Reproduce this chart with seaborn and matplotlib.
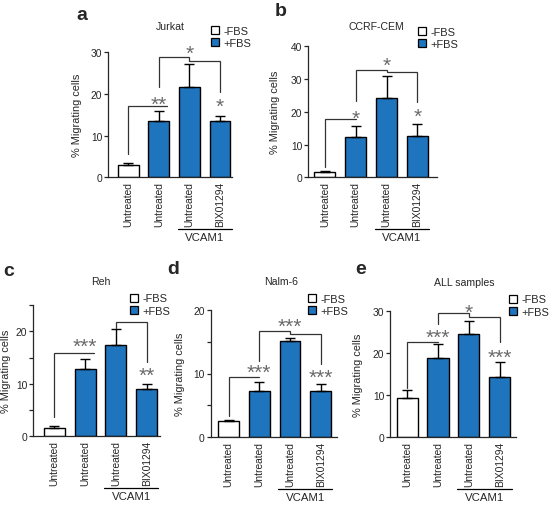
import numpy as np
import pandas as pd
import seaborn as sns
import matplotlib
matplotlib.use("Agg")
import matplotlib.pyplot as plt
import matplotlib.transforms as mtransforms
from matplotlib.patches import Patch

# ---------------- data ----------------
conditions = ["Untreated -FBS", "Untreated +FBS", "VCAM1 Untreated", "VCAM1 BIX01294"]
tick_labels = ["Untreated", "Untreated", "Untreated", "BIX01294"]
serum = ["-FBS", "+FBS", "+FBS", "+FBS"]

jurkat_mean = [2.9, 13.4, 21.6, 13.4]
jurkat_err = [0.5, 2.5, 5.6, 1.4]
ccrf_mean = [1.5, 12.2, 24.1, 12.7]
ccrf_err = [0.3, 3.6, 6.7, 3.6]
reh_mean = [1.6, 12.8, 17.3, 9.0]
reh_err = [0.3, 2.0, 3.1, 0.9]
nalm_mean = [2.5, 7.2, 15.1, 7.3]
nalm_err = [0.2, 1.5, 0.5, 1.0]
all_mean = [9.3, 18.8, 24.5, 14.2]
all_err = [2.0, 3.2, 3.1, 3.7]

titles = ["Jurkat", "CCRF-CEM", "Reh", "Nalm-6", "ALL samples"]
letters = ["a", "b", "c", "d", "e"]

BLUE = "#1f74be"
STAR = "#6a6a6a"
FONT = ["Liberation Sans", "DejaVu Sans"]

sns.set_theme(style="ticks")
plt.rcParams["font.family"] = FONT
plt.rcParams["axes.linewidth"] = 0.9

fig = plt.figure(figsize=(5.5, 5.06), dpi=100)
W, H = 550.0, 506.0

panels = [
    dict(mean=jurkat_mean, err=jurkat_err, box=(108, 232, 53.3, 178.3), xlim=(-0.66, 3.39),
         ymax=30, ticks=[0, 10, 20, 30], ylab_off=26,
         title=(170.7, 27.3), letter=(82, 15), leg=(211, 27),
         brackets=[([0, 0, 1.28], [5.6, 17.2, 17.2]),
                   ([1, 1, 2, 2, 3, 3], [21.6, 28.8, 28.8, 28.0, 28.0, 20.4])],
         stars=[(1, 18.8, "**"), (2, 31.0, "*"), (3, 18.3, "*")]),
    dict(mean=ccrf_mean, err=ccrf_err, box=(308, 437, 47.3, 178.3), xlim=(-0.55, 3.64),
         ymax=40, ticks=[0, 10, 20, 30, 40], ylab_off=28,
         title=(376, 26.7), letter=(281, 12), leg=(418, 27.5),
         brackets=[([0, 0, 1], [3.1, 17.7, 17.7]),
                   ([1, 1, 2, 2, 3, 3], [23.4, 32.9, 32.9, 32.2, 32.2, 23.0])],
         stars=[(1, 19.6, "*"), (2, 35.6, "*"), (3, 20.0, "*")]),
    dict(mean=reh_mean, err=reh_err, box=(33.3, 160, 306, 437.3), xlim=(-0.68, 3.43),
         ymax=25, ticks=[0, 5, 10, 15, 20, 25], ylab_off=22,
         title=(100.8, 281.7), letter=(9, 271), leg=(130, 294.5),
         brackets=[([0, 0, 1.3], [3.6, 15.8, 15.8]),
                   ([2, 2, 3, 3], [20.6, 21.7, 21.7, 14.2])],
         stars=[(1, 18.0, "***"), (3, 12.5, "**")]),
    dict(mean=nalm_mean, err=nalm_err, box=(210.7, 337, 310.7, 438.3), xlim=(-0.58, 3.53),
         ymax=20, ticks=[0, 5, 10, 15, 20], ylab_off=26,
         title=(280.8, 281.7), letter=(173, 270), leg=(308, 295),
         brackets=[([0, 0, 1], [3.4, 9.4, 9.4]),
                   ([1, 1, 2, 2, 3, 3], [12.0, 16.7, 16.7, 16.2, 16.2, 11.5])],
         stars=[(1, 11.0, "***"), (2, 18.1, "***"), (3, 10.1, "***")]),
    dict(mean=all_mean, err=all_err, box=(390, 516, 311.7, 438.3), xlim=(-0.55, 3.52),
         ymax=30, ticks=[0, 10, 20, 30], ylab_off=27,
         title=(464, 283.3), letter=(361, 270), leg=(509, 295.5),
         brackets=[([0, 0, 1], [11.8, 22.6, 22.6]),
                   ([1, 1, 2, 2, 3, 3], [26.8, 29.4, 29.4, 28.4, 28.4, 22.6])],
         stars=[(1, 24.9, "***"), (2, 30.8, "*"), (3, 20.2, "***")]),
]

palette = {"-FBS": "white", "+FBS": BLUE}
STAR_FS = 15

for i, p in enumerate(panels):
    l, r, t, b = p["box"]
    ax = fig.add_axes([l / W, 1 - b / H, (r - l) / W, (b - t) / H])
    df = pd.DataFrame({"cond": conditions, "val": p["mean"], "serum": serum})
    sns.barplot(data=df, x="cond", y="val", hue="serum", palette=palette, dodge=False,
                order=conditions, width=0.68, edgecolor="black", linewidth=1.0,
                saturation=1, errorbar=None, legend=False, ax=ax, zorder=2)
    xs = np.arange(len(conditions))
    ax.errorbar(xs, p["mean"], yerr=[np.zeros(len(xs)), p["err"]], fmt="none",
                ecolor="black", elinewidth=1.0, capsize=3.6, capthick=1.0, zorder=3)
    ax.set_xlim(*p["xlim"])
    ax.set_ylim(0, p["ymax"])
    ax.set_yticks(p["ticks"])
    ax.set_yticklabels([str(v) if v % 10 == 0 else "" for v in p["ticks"]])
    ax.set_xticks(xs)
    ax.set_xticklabels(tick_labels, rotation=90, fontsize=7.4)
    ax.tick_params(axis="x", length=0, pad=2.8)
    ax.tick_params(axis="y", length=3, width=0.9, pad=1.2, labelsize=7.4, direction="out")
    ax.set_xlabel("")
    ax.set_ylabel("% Migrating cells", fontsize=7.9)
    ax.yaxis.set_label_coords(-p["ylab_off"] / (r - l), 0.5)
    sns.despine(ax=ax)
    ax.spines["left"].set_linewidth(0.9)
    ax.spines["bottom"].set_linewidth(0.9)
    ax.patch.set_alpha(0)

    for bx, by in p["brackets"]:
        ax.plot(bx, by, color="#333333", lw=0.9, clip_on=False, zorder=4,
                solid_joinstyle="miter")
    for sx, sy, st in p["stars"]:
        ax.annotate(st, xy=(sx, sy), xytext=(0, -0.5 * STAR_FS), textcoords="offset points",
                    ha="center", va="baseline", fontsize=STAR_FS, color=STAR,
                    annotation_clip=False)

    base = mtransforms.blended_transform_factory(ax.transData, ax.transAxes)
    tline = mtransforms.offset_copy(base, fig=fig, x=0, y=-52, units="dots")
    ttext = mtransforms.offset_copy(base, fig=fig, x=0, y=-60, units="dots")
    ax.plot([1.62, 3.38], [0, 0], color="black", lw=0.9, transform=tline, clip_on=False)
    ax.text(2.5, 0, "VCAM1", transform=ttext, ha="center", va="center", fontsize=8.2)

    tx, ty = p["title"]
    fig.text(tx / W, 1 - ty / H, titles[i], ha="center", va="center", fontsize=7.6)
    lx, ly = p["letter"]
    fig.text(lx / W, 1 - ly / H, letters[i], ha="center", va="center", fontsize=14,
             fontweight="bold")

    handles = [Patch(facecolor="white", edgecolor="black", linewidth=0.9, label="-FBS"),
               Patch(facecolor=BLUE, edgecolor="black", linewidth=0.9, label="+FBS")]
    gx, gy = p["leg"]
    ax.legend(handles=handles, loc="upper left", bbox_to_anchor=(gx / W, 1 - gy / H),
              bbox_transform=fig.transFigure, frameon=False, fontsize=7.9,
              handlelength=0.75, handleheight=0.75, handletextpad=0.35, labelspacing=0.2,
              borderpad=0, borderaxespad=0)

fig.savefig("out.png", dpi=100)
